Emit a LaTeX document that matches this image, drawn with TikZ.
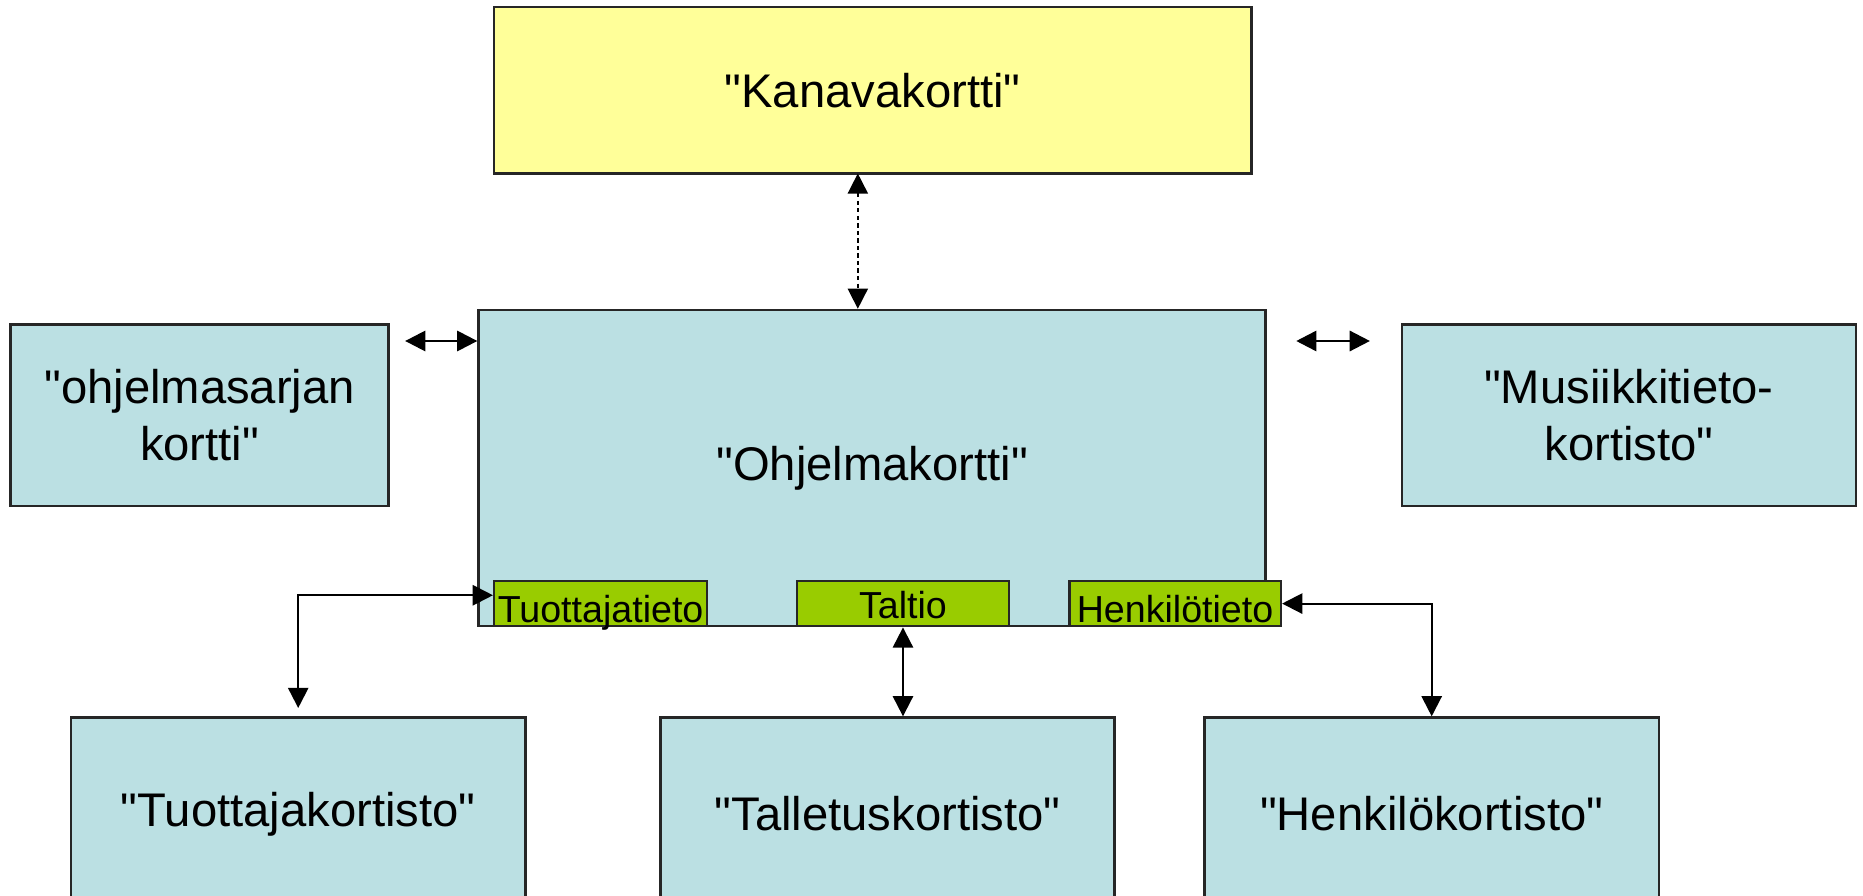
\documentclass[tikz,border=0pt]{standalone}
\usepackage{fontspec}
\setmainfont{Liberation Sans}[Ligatures=TeXOff]
\usetikzlibrary{arrows.meta}
\definecolor{cardblue}{HTML}{BBE0E3}
\definecolor{cardyellow}{HTML}{FFFF99}
\definecolor{fieldgreen}{HTML}{99CC00}
\tikzset{card/.style={draw=black!85, line width=0.6pt, inner sep=0pt, align=center, font=\fontsize{11.3}{13.6}\selectfont}}
\tikzset{field/.style={draw=black!85, line width=0.6pt, fill=fieldgreen, inner sep=0pt, minimum width=1.78cm, minimum height=0.38cm, font=\fontsize{9}{10}\selectfont}}
\tikzset{link/.style={line width=0.5pt, {Triangle[length=0.17cm,width=0.17cm]}-{Triangle[length=0.17cm,width=0.17cm]}}}

\begin{document}
\begin{tikzpicture}[x=0.01cm,y=-0.01cm]
  \path[use as bounding box, clip] (0,0) rectangle (1568,754);
  % cards
  \node[card, fill=cardyellow, minimum width=6.37cm, minimum height=1.40cm] (kanava) at (734.5, 76) {"Kanavakortti"};
  \node[card, fill=cardblue, minimum width=6.62cm, minimum height=2.66cm] (ohjelma) at (734, 394) {"Ohjelmakortti"};
  \node[card, fill=cardblue, minimum width=3.18cm, minimum height=1.53cm] (sarja) at (168, 349.5) {"ohjelmasarjan\\kortti"};
  \node[card, fill=cardblue, minimum width=3.82cm, minimum height=1.53cm] (musiikki) at (1371, 349.5) {"Musiikkitieto-\\kortisto"};
  \node[card, fill=cardblue, minimum width=3.82cm, minimum height=1.62cm] (tuokortisto) at (251, 685) {"Tuottajakortisto"};
  \node[card, fill=cardblue, minimum width=3.82cm, minimum height=1.62cm] (talletus) at (747, 685) {"Talletuskortisto"};
  \node[card, fill=cardblue, minimum width=3.82cm, minimum height=1.62cm] (henkikortisto) at (1205, 685) {"Henkilökortisto"};
  % fields
  \node[field, minimum width=1.79cm, text height=0.35cm, text depth=0.03cm] (tuotieto) at (505.5, 508) {Tuottajatieto};
  \node[field, text height=0.315cm, text depth=0.065cm] (taltio) at (760, 508) {Taltio};
  \node[field, text height=0.35cm, text depth=0.03cm] (henkitieto) at (989, 508) {Henkilötieto\hspace{0.9mm}};
  % connectors
  \coordinate (kanavajalka) at (722, 146);
  \draw[link, line width=0.4pt, dash pattern=on 1pt off 0.8pt] (kanavajalka) -- (kanavajalka |- ohjelma.north);
  \coordinate (sarjapaa) at (341, 287);
  \draw[link, line width=0.6pt] (sarjapaa) -- (ohjelma.west |- sarjapaa);
  \coordinate (musiikkia) at (1091, 287);
  \coordinate (musiikkib) at (1153, 287);
  \draw[link, line width=0.6pt] (musiikkia) -- (musiikkib);
  \draw[link] ([yshift=0.07cm]tuotieto.west) -| ([yshift=0.07cm]tuokortisto.north);
  \draw[link] (taltio.south) -- (taltio.south |- talletus.north);
  \draw[link] (henkitieto.east) -| (henkikortisto.north);
\end{tikzpicture}
\end{document}
